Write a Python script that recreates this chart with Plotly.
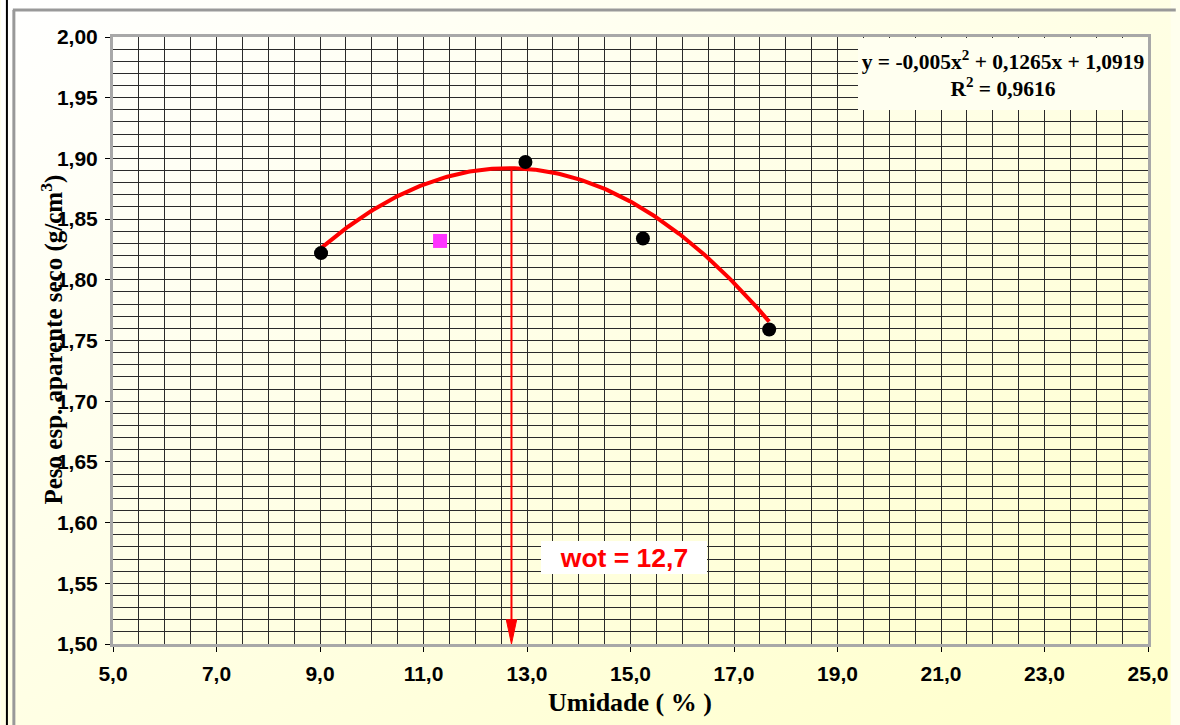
import base64
import numpy as np
import plotly.graph_objects as go

# Compaction test points: moisture (%) vs dry unit weight (g/cm3)
umidade = [9.02, 12.97, 15.24, 17.68]
peso_seco = [1.822, 1.897, 1.834, 1.759]

# Extra point shown as a magenta square
umidade_extra = [11.32]
peso_extra = [1.832]

# Quadratic trendline coefficients and fit quality
coef_a = -0.005
coef_b = 0.1265
coef_c = 1.0919
r2 = 0.9616

# Optimum moisture content
wot = 12.7

x_range = [5.0, 25.0]
y_range = [1.50, 2.00]

W, H = 1180, 725
ML, MR, MT, MB = 113, 23, 37, 81
PW, PH = W - ML - MR, H - MT - MB


def px_x(p):
    return (p - ML) / PW


def px_y(p):
    return (H - MB - p) / PH


def fmt(v):
    return f"{v:g}".replace(".", ",")


def trend(x):
    return coef_a * x ** 2 + coef_b * x + coef_c


SANS = "Liberation Sans, Arial, sans-serif"
SERIF = "Liberation Serif, Times New Roman, serif"

fig = go.Figure()

# trendline over the measured range
xs = np.linspace(min(umidade), max(umidade), 200)
fig.add_trace(go.Scatter(
    x=xs, y=trend(xs), mode="lines",
    line=dict(color="#FF0000", width=4), hoverinfo="skip", showlegend=False,
))

fig.add_trace(go.Scatter(
    x=umidade, y=peso_seco, mode="markers",
    marker=dict(color="#000000", size=14, symbol="circle"), showlegend=False,
))

fig.add_trace(go.Scatter(
    x=umidade_extra, y=peso_extra, mode="markers",
    marker=dict(color="#FF33FF", size=14, symbol="square"), showlegend=False,
))

# vertical arrow from the curve down to the x axis at the optimum moisture
y_top = trend(wot)
head_len = 0.02
head_half = 0.1
fig.add_shape(type="line", xref="x", yref="y",
              x0=wot, x1=wot, y0=y_top, y1=y_range[0] + head_len * 0.5,
              line=dict(color="#FF0000", width=2))
fig.add_shape(type="path", xref="x", yref="y",
              path=(f"M {wot - head_half},{y_range[0] + head_len} "
                    f"L {wot},{y_range[0]} L {wot + head_half},{y_range[0] + head_len} Z"),
              fillcolor="#FF0000", line=dict(color="#FF0000", width=1))

# outer frame lines
fig.add_shape(type="line", xref="paper", yref="paper",
              x0=px_x(6), x1=px_x(6), y0=px_y(0), y1=px_y(H),
              line=dict(color="#000000", width=2))
fig.add_shape(type="line", xref="paper", yref="paper",
              x0=px_x(13), x1=px_x(13), y0=px_y(10), y1=px_y(H),
              line=dict(color="#999999", width=3))
fig.add_shape(type="line", xref="paper", yref="paper",
              x0=px_x(12), x1=px_x(W + 5), y0=px_y(10), y1=px_y(10),
              line=dict(color="#999999", width=3))

# equation box
eq_text = (f"y = {fmt(coef_a)}x<sup>2</sup> + {fmt(coef_b)}x + {fmt(coef_c)}<br>"
           f"R<sup>2</sup> = {fmt(r2)}")
fig.add_annotation(
    xref="paper", yref="paper", x=px_x(1011), y=px_y(74),
    xanchor="center", yanchor="middle", text=eq_text, showarrow=False,
    font=dict(family=SERIF, size=21.5, color="#000000", weight="bold"),
    bgcolor="#FFFFF0", borderpad=0, borderwidth=0, width=290, height=72,
    align="center", valign="middle",
)

# optimum moisture label
fig.add_annotation(
    xref="paper", yref="paper", x=px_x(628), y=px_y(557.5),
    xanchor="center", yanchor="middle", text=f"wot = {fmt(wot)}", showarrow=False,
    font=dict(family=SANS, size=26.5, color="#FF0000", weight="bold"),
    bgcolor="#FFFFFF", borderpad=0, borderwidth=0, width=166, height=33,
    align="center", valign="middle",
)

# axis titles
fig.add_annotation(
    xref="paper", yref="paper", x=px_x(634), y=px_y(702),
    xanchor="center", yanchor="middle", text="Umidade ( % )", showarrow=False,
    font=dict(family=SERIF, size=26, color="#000000", weight="bold"),
)
fig.add_annotation(
    xref="paper", yref="paper", x=px_x(51), y=px_y(340),
    xanchor="center", yanchor="middle", textangle=-90,
    text="Peso esp. aparente seco (g/cm<sup>3</sup>)", showarrow=False,
    font=dict(family=SERIF, size=25, color="#000000", weight="bold"),
)

# diagonal background gradient
svg = (
    f"<svg xmlns='http://www.w3.org/2000/svg' width='{W}' height='{H}'>"
    "<defs><linearGradient id='g' x1='0' y1='0' x2='1' y2='1'>"
    "<stop offset='0' stop-color='#FFFFFF'/><stop offset='1' stop-color='#FFFFCA'/>"
    "</linearGradient></defs>"
    f"<rect width='{W}' height='{H}' fill='url(#g)'/></svg>"
)
bg_src = "data:image/svg+xml;base64," + base64.b64encode(svg.encode()).decode()
fig.add_layout_image(
    source=bg_src, xref="paper", yref="paper",
    x=px_x(0), y=px_y(0), sizex=W / PW, sizey=H / PH,
    xanchor="left", yanchor="top", sizing="stretch", layer="below",
)

grid_color = "#2A2A2A"
axis_common = dict(
    showline=True, linecolor="#A8A8A8", linewidth=3, mirror=True,
    ticks="outside", ticklen=5, tickwidth=1, tickcolor="#000000",
    showgrid=True, gridcolor=grid_color, gridwidth=1, zeroline=False,
    tickfont=dict(family=SANS, size=21, color="#000000", weight="bold"),
)

fig.update_xaxes(
    range=x_range, dtick=2, tick0=5, tickformat=".1f", ticklabelstandoff=4,
    minor=dict(dtick=0.5, tick0=5, showgrid=True, gridcolor=grid_color, gridwidth=1, ticks=""),
    **axis_common,
)
fig.update_yaxes(
    range=y_range, dtick=0.05, tick0=1.5, tickformat=".2f", ticklabelstandoff=3,
    minor=dict(dtick=0.01, tick0=1.5, showgrid=True, gridcolor=grid_color, gridwidth=1, ticks=""),
    **axis_common,
)

fig.update_layout(
    width=W, height=H,
    margin=dict(l=ML, r=MR, t=MT, b=MB, pad=0),
    paper_bgcolor="#FFFFEE", plot_bgcolor="rgba(0,0,0,0)",
    separators=",.", showlegend=False,
)

fig.write_html("out.html")
